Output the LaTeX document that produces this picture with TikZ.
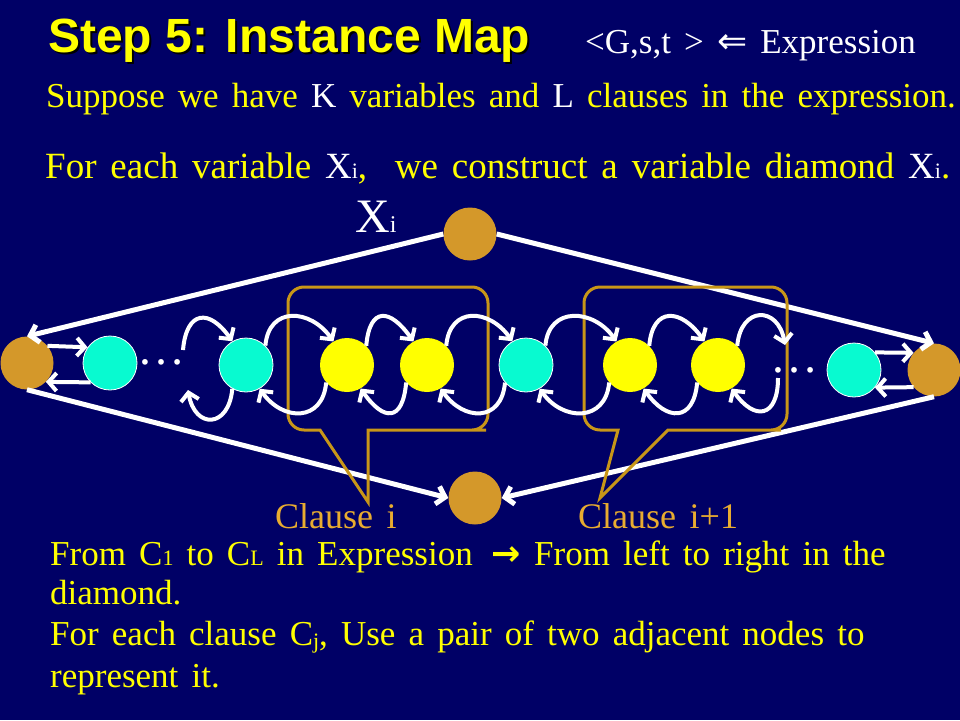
\documentclass[tikz,border=0pt]{standalone}
\usepackage{fontspec}
\setmainfont[WordSpace=1.5]{Liberation Serif}
\newfontfamily\headfont{Liberation Sans}
\newfontfamily\arrowfont{DejaVu Sans}
\usepackage{tikz}
\usetikzlibrary{arrows.meta}
\usetikzlibrary{positioning}

\definecolor{navybg}{RGB}{0,0,102}
\definecolor{gold}{RGB}{212,152,42}
\definecolor{aqua}{RGB}{8,250,208}
\definecolor{lemon}{RGB}{255,255,0}
\definecolor{callout}{RGB}{200,150,24}
\definecolor{clausetext}{RGB}{232,172,48}

\newcommand{\lil}[1]{{\fontsize{22}{22}\selectfont #1}}

\tikzset{
	endpt/.style={circle, fill=gold, minimum size=53pt, inner sep=0pt},
	varpt/.style={circle, fill=aqua, draw=white, line width=0.8pt, minimum size=54pt, inner sep=0pt},
	clausept/.style={circle, fill=lemon, minimum size=54pt, inner sep=0pt},
	wire/.style={draw=white, line width=4pt, ->},
	bubble/.style={draw=callout, line width=3pt},
	txt/.style={anchor=base west, inner sep=0pt, text=lemon},
}

\begin{document}
\begin{tikzpicture}[x=1pt, y=-1pt, >={Straight Barb[length=8pt,width=18pt]}]
	        \fill[navybg] (0,0) rectangle (960,720);
	        \useasboundingbox (0,0) rectangle (960,720);
	        % text
	        \node[txt, text=black, font=\headfont\bfseries\fontsize{48}{48}\selectfont] (titleshade) at (50,54) {Step 5: Instance Map};
	        \node[txt, font=\headfont\bfseries\fontsize{48}{48}\selectfont] (title) at (48,52) {Step 5: Instance Map};
	        \node[txt, text=white, font=\fontsize{35}{35}\selectfont] (goal) at (585,53) {<G,s,t > {\arrowfont\fontsize{36}{36}\selectfont ⇐} Expression};
	        \node[txt, font=\fontsize{35}{35}\selectfont] (suppose) at (46,107) {Suppose we have \textcolor{white}{K} variables and \textcolor{white}{L} clauses in the expression.};
	        \node[txt, font=\fontsize{37}{37}\selectfont] (foreach) at (45,178) {For each variable \textcolor{white}{X\lil{i}}, \ we construct a variable diamond \textcolor{white}{X\lil{i}}.};
	        \node[txt, text=white, font=\fontsize{48}{48}\selectfont] (xi) at (355,232) {X{\fontsize{24}{24}\selectfont i}};
	        \node[txt, text=clausetext, font=\fontsize{36}{36}\selectfont] (clausei) at (275,528) {Clause i};
	        \node[txt, text=clausetext, font=\fontsize{36}{36}\selectfont] (clauseii) at (578,528) {Clause i+1};
	        \node[txt, font=\fontsize{35}{35}\selectfont] (fromto) at (50,565) {From C\lil{1} to C\lil{L} in Expression \,{\arrowfont\bfseries →} From left to right in the};
	        \node[txt, font=\fontsize{35}{35}\selectfont] (diam) at (50,604) {diamond.};
	        \node[txt, font=\fontsize{35}{35}\selectfont] (pair) at (50,645) {For each clause C\raisebox{-3pt}{\lil{j}}, Use a pair of two adjacent nodes to};
	        \node[txt, font=\fontsize{35}{35}\selectfont] (repr) at (50,687) {represent it.};
	        % diamond
	        \node[endpt] (s) at (27,363) {};
	        \node[varpt] (c1) [right of=s, node distance=83pt] {};
	        \node[varpt] (c2) [right of=c1, node distance=136pt, yshift=-2pt] {};
	        \node[clausept] (y1) [right of=c2, node distance=101pt] {};
	        \node[clausept] (y2) [right of=y1, node distance=80pt] {};
	        \node[varpt] (c3) [right of=y2, node distance=99pt] {};
	        \node[clausept] (y3) [right of=c3, node distance=104pt] {};
	        \node[clausept] (y4) [right of=y3, node distance=88pt] {};
	        \node[varpt] (c4) [right of=y4, node distance=136pt, yshift=-5pt] {};
	        \node[endpt] (t) [right of=c4, node distance=80pt] {};
	        \node[endpt] (top) at (470,234) {};
	        \node[endpt] (bot) at (475,498) {};
	        \node[text=white, font=\fontsize{48}{48}\selectfont] (ldots) at (161,362) {…};
	        \node[text=white, font=\fontsize{48}{48}\selectfont] (rdots) at (794,370) {…};
	        \coordinate (lin) at (183,350);
	        \coordinate (lout) at (188,390);
	        \coordinate (rout) at (785,345);
	        \coordinate (rin) at (778,378);
	        \draw[wire, line width=5pt] (top.west) -- (s.north);
	        \draw[wire, line width=5pt] (top.east) -- (t.north);
	        \draw[wire, line width=5pt] (s.south) -- (bot.west);
	        \draw[wire, line width=5pt] (t.south) -- (bot.east);
	        \draw[wire] (s.40) -- (c1.145);
	        \draw[wire] (c1.225) -- (s.-45);
	        \draw[wire] (c4.40) -- (t.140);
	        \draw[wire] (t.220) -- (c4.-40);
	        % clause bubbles
	        \draw[bubble] (368,502) -- (320,430) -- (310,430) [rounded corners=16pt] -- (288,430) -- (288,287) -- (488,287) -- (488,430) -- (470,430) [sharp corners] -- (368,430) -- cycle;
	        \draw[bubble] (600,498) -- (618,430) -- (605,430) [rounded corners=16pt] -- (584,430) -- (584,287) -- (787,287) -- (787,430) -- (765,430) [sharp corners] -- (668,430) -- cycle;
	        % arcs along the chain
	        \draw[wire] (lin) to [out=85, in=125, distance=40pt] (c2.120);
	        \draw[wire] (c2.240) to [out=-95, in=-80, distance=40pt] (lout);
	        \draw[wire] (c2.45) to [out=85, in=125, distance=40pt] (y1.120);
	        \draw[wire] (y1.220) to [out=-95, in=-55, distance=40pt] (c2.-60);
	        \draw[wire] (y1.45) to [out=85, in=125, distance=40pt] (y2.120);
	        \draw[wire] (y2.220) to [out=-95, in=-55, distance=40pt] (y1.-60);
	        \draw[wire] (y2.45) to [out=85, in=125, distance=40pt] (c3.120);
	        \draw[wire] (c3.220) to [out=-95, in=-55, distance=40pt] (y2.-60);
	        \draw[wire] (c3.45) to [out=85, in=125, distance=40pt] (y3.120);
	        \draw[wire] (y3.220) to [out=-95, in=-55, distance=40pt] (c3.-60);
	        \draw[wire] (y3.45) to [out=85, in=125, distance=40pt] (y4.120);
	        \draw[wire] (y4.220) to [out=-95, in=-55, distance=40pt] (y3.-60);
	        \draw[wire] (y4.45) to [out=85, in=100, distance=40pt] (rout);
	        \draw[wire] (rin) to [out=-90, in=-55, distance=40pt] (y4.-60);
	     \end{tikzpicture}
\end{document}
